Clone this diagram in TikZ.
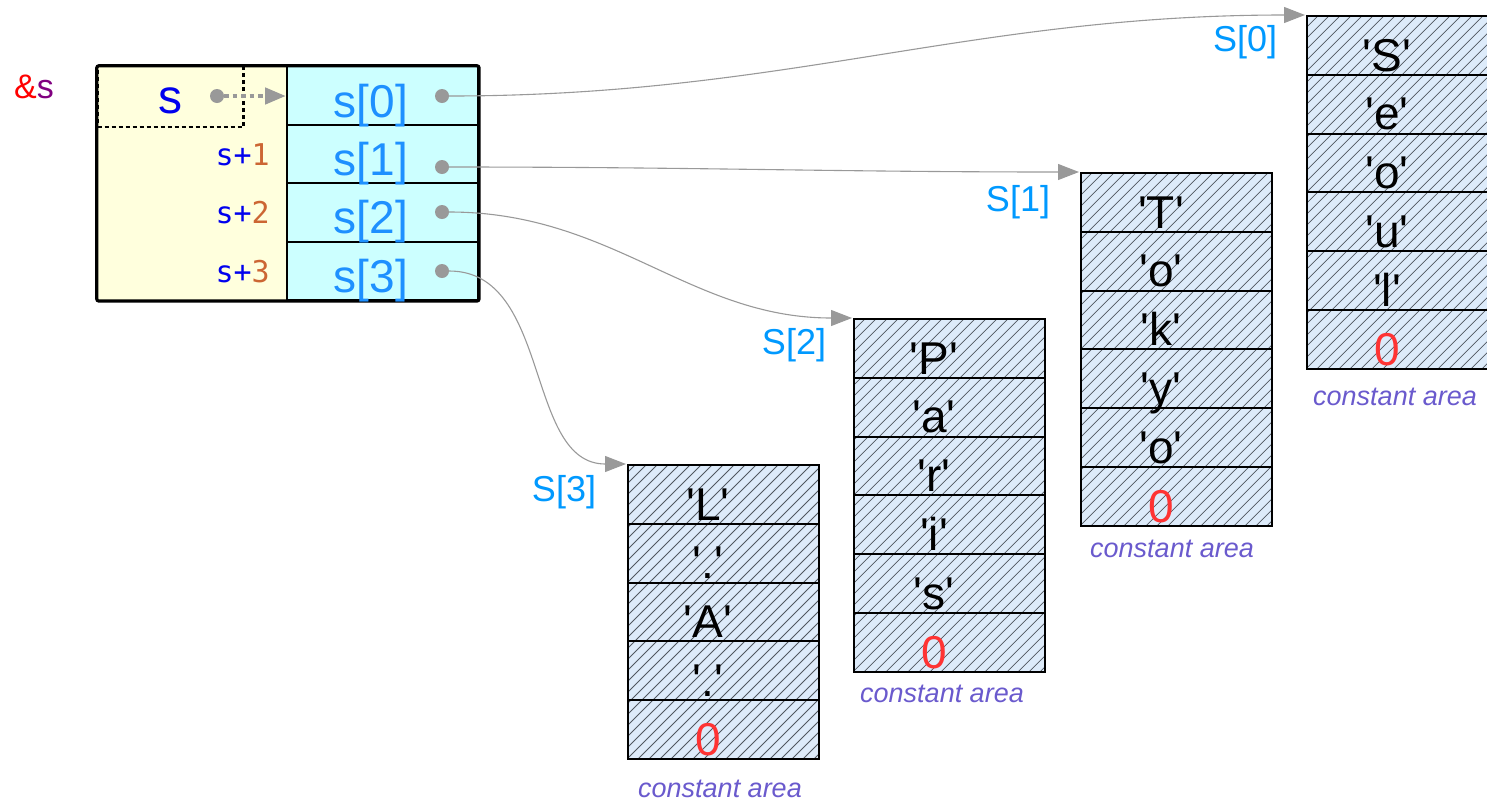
\documentclass[tikz,border=0pt]{standalone}
\usepackage{fontspec}
\setmainfont{Liberation Sans}
\newfontfamily\monofont{DejaVu Sans Mono}
\usetikzlibrary{arrows.meta}
\definecolor{sblue}{HTML}{0000EE}
\definecolor{idxblue}{HTML}{1E90FF}
\definecolor{lblblue}{HTML}{0099FF}
\definecolor{ampred}{HTML}{FF0000}
\definecolor{spurple}{HTML}{800080}
\definecolor{digorange}{HTML}{CC6633}
\definecolor{zred}{HTML}{FF3333}
\definecolor{areacol}{HTML}{6A5ACD}
\definecolor{ptrgray}{HTML}{999999}
\definecolor{yelfill}{HTML}{FFFFDD}
\definecolor{cyanfill}{HTML}{CCFFFF}
\definecolor{colfill}{HTML}{DDEBFA}
\definecolor{hatchcol}{HTML}{505860}
\newcommand\q{\textquotesingle}
\newcommand\zr{\textcolor{zred}{0}}
\newcommand\strcolumn[5]{%
  \fill[colfill] (#2,#3) rectangle ++(191,#4*58.8);
  \begin{scope}
    \clip (#2,#3) rectangle ++(191,#4*58.8);
    \foreach \k in {0,...,50} \draw[hatchline] (#2-353+\k*11,#3+#4*58.8) -- ++(353,-353);
  \end{scope}
  \foreach \ch [count=\i from 0] in {#5} {
    \node[cellbox] (#1-\i) at (#2+95.5, #3+\i*58.8+29.4) {};
    \node[celltext] (#1-t\i) at (#2+80, #3+\i*58.8+55) {\ch};
  }
}
\begin{document}
\begin{tikzpicture}[x=1pt,y=-1pt,
  hatchline/.style={draw=hatchcol, line width=0.8pt},
  cellbox/.style={draw=black, line width=2pt, minimum width=191pt, minimum height=58.8pt, inner sep=0pt},
  celltext/.style={anchor=base, inner sep=0pt, font=\fontsize{46}{50}\selectfont},
  idxtext/.style={anchor=base, inner sep=0pt, text=idxblue, font=\fontsize{46}{50}\selectfont},
  offtext/.style={anchor=base east, inner sep=0pt, font=\monofont\fontsize{30}{34}\selectfont},
  lbltext/.style={inner sep=0pt, text=lblblue, font=\fontsize{36}{40}\selectfont},
  areatext/.style={anchor=base, inner sep=0pt, text=areacol, font=\itshape\fontsize{27}{30}\selectfont},
  pcell/.style={fill=cyanfill, draw=black, line width=2pt, minimum width=191pt, minimum height=58.5pt, inner sep=0pt},
  dotnode/.style={circle, fill=ptrgray, inner sep=0pt, minimum size=14pt},
  ptr/.style={draw=ptrgray, line width=1.1pt, -{Triangle[length=21pt,width=16pt]}, shorten >=1pt},
]
\useasboundingbox (0,0) rectangle (1487,801);

% ---- main array box ----
\node[fill=yelfill, inner sep=0pt, minimum width=190pt, minimum height=234pt] (yb) at (192,183) {};
\foreach \i in {0,...,3} {
  \node[pcell] (p\i) at (382.5, 66+29.25+\i*58.5) {};
}
\draw[black, line width=3.2pt, rounded corners=2pt] (yb.north west) rectangle (p3.south east);
\draw[black, line width=2pt] (yb.north east) -- (yb.south east);
\node[draw=black, line width=2.4pt, dash pattern=on 4pt off 3pt, inner sep=0pt, minimum width=146pt, minimum height=61pt] (sbox) at (170.5,96.5) {};

\node[anchor=base, inner sep=0pt, font=\fontsize{34}{38}\selectfont] (amp) at (34,98) {\textcolor{ampred}{\&}\textcolor{spurple}{s}};
\node[anchor=base, inner sep=0pt, text=sblue, font=\fontsize{48}{52}\selectfont] (sname) at (170,113) {s};
\node[offtext] (o1) at (270,165) {\textcolor{sblue}{s+}\textcolor{digorange}{1}};
\node[offtext] (o2) at (270,223) {\textcolor{sblue}{s+}\textcolor{digorange}{2}};
\node[offtext] (o3) at (270,282) {\textcolor{sblue}{s+}\textcolor{digorange}{3}};

\node[idxtext] (i0) at (371,117) {s[0]};
\node[idxtext] (i1) at (371,175) {s[1]};
\node[idxtext] (i2) at (371,233) {s[2]};
\node[idxtext] (i3) at (371,292) {s[3]};

% ---- string columns ----
\strcolumn{c3}{628}{465}{5}{\q L\q, \q.\q, \q A\q, \q.\q, \zr}
\strcolumn{c2}{854}{319}{6}{\q P\q, \q a\q, \q r\q, \q i\q, \q s\q, \zr}
\strcolumn{c1}{1081}{173}{6}{\q T\q, \q o\q, \q k\q, \q y\q, \q o\q, \zr}
\strcolumn{c0}{1307}{16}{6}{\q S\q, \q e\q, \q o\q, \q u\q, \q l\q, \zr}

\node[lbltext] (l3) at (564,492) {S[3]};
\node[lbltext] (l2) at (794,345) {S[2]};
\node[lbltext] (l1) at (1018,202) {S[1]};
\node[lbltext] (l0) at (1245,42) {S[0]};

\node[areatext] (a3) at (720,797) {constant area};
\node[areatext] (a2) at (942,702) {constant area};
\node[areatext] (a1) at (1172,557) {constant area};
\node[areatext] (a0) at (1395,405) {constant area};

% ---- pointers ----
\node[dotnode] (d0) at (442,96) {};
\node[dotnode] (d1) at (442,167) {};
\node[dotnode] (d2) at (442,212) {};
\node[dotnode] (d3) at (442,271) {};
\node[dotnode] (ds) at (217,96) {};

\draw[ptr] (d0) to[out=0,in=180] (c0-0.north west);
\draw[ptr] (d1) to[out=0,in=180] (c1-0.north west);
\draw[ptr] (d2) to[out=0,in=180] (c2-0.north west);
\draw[ptr] (d3) to[out=0,in=180] (c3-0.north west);
\draw[draw=ptrgray, line width=4.5pt, dash pattern=on 4.5pt off 4pt, -{Triangle[length=21pt,width=16pt]}] (ds) -- (p0.west |- ds);
\end{tikzpicture}
\end{document}
